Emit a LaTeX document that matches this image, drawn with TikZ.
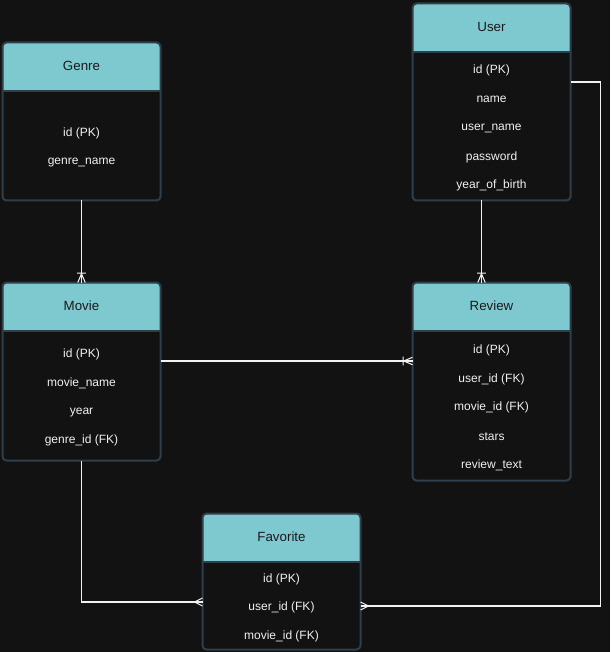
\documentclass[tikz,border=0pt]{standalone}
\usepackage{fontspec}
\setmainfont{Liberation Sans}
\usetikzlibrary{calc,arrows.meta}

\definecolor{canvas}{HTML}{121212}
\definecolor{tblborder}{HTML}{2E3E4A}
\definecolor{hdrfill}{HTML}{7DC9CF}
\definecolor{hdrtext}{HTML}{1A1A1A}
\definecolor{fieldcol}{HTML}{F0F0F0}
\definecolor{linkcol}{HTML}{F2F2F2}

% crow's foot: many
\pgfdeclarearrow{
  name = ERmany,
  setup code = {
    \pgfarrowssettipend{0pt}
    \pgfarrowssetlineend{0pt}
    \pgfarrowssetbackend{-6pt}
    \pgfarrowshullpoint{0pt}{3pt}
    \pgfarrowshullpoint{0pt}{-3pt}
    \pgfarrowshullpoint{-6pt}{0pt}
  },
  drawing code = {
    \pgfsetdash{}{0pt}
    \pgfpathmoveto{\pgfqpoint{0pt}{3pt}}
    \pgfpathlineto{\pgfqpoint{-6pt}{0pt}}
    \pgfpathlineto{\pgfqpoint{0pt}{-3pt}}
    \pgfusepathqstroke
  },
}
% crow's foot: one or many
\pgfdeclarearrow{
  name = ERonemany,
  setup code = {
    \pgfarrowssettipend{0pt}
    \pgfarrowssetlineend{0pt}
    \pgfarrowssetbackend{-7pt}
    \pgfarrowshullpoint{0pt}{3pt}
    \pgfarrowshullpoint{0pt}{-3pt}
    \pgfarrowshullpoint{-7pt}{3pt}
    \pgfarrowshullpoint{-7pt}{-3pt}
  },
  drawing code = {
    \pgfsetdash{}{0pt}
    \pgfpathmoveto{\pgfqpoint{0pt}{2.8pt}}
    \pgfpathlineto{\pgfqpoint{-6.5pt}{0pt}}
    \pgfpathlineto{\pgfqpoint{0pt}{-2.8pt}}
    \pgfpathmoveto{\pgfqpoint{-7pt}{3.2pt}}
    \pgfpathlineto{\pgfqpoint{-7pt}{-3.2pt}}
    \pgfusepathqstroke
  },
}

\tikzset{
  tablebox/.style={draw=tblborder, line width=1.5pt, fill=canvas,
    rounded corners=3pt, minimum width=118.5pt, inner sep=0pt, outer sep=0pt,
    anchor=north west,
    path picture={
      \fill[hdrfill, sharp corners] (path picture bounding box.north west)
        rectangle ([yshift=-36.4pt]path picture bounding box.north east);
      \draw[tblborder, line width=1.5pt, sharp corners]
        ([yshift=-36.4pt]path picture bounding box.north west)
        -- ([yshift=-36.4pt]path picture bounding box.north east);
    }},
  titletext/.style={font=\fontsize{10}{12}\selectfont, text=hdrtext, inner sep=0pt},
  fieldtext/.style={font=\fontsize{9}{11}\selectfont, text=fieldcol, inner sep=0pt},
  conn/.style={draw=linkcol, line width=0.8pt},
}

% table: name, left, top, height, title, number of fields, fields
\newcommand{\ertable}[7]{%
  \node[tablebox, minimum height={#4*0.75pt}] (#1) at (#2,#3) {};
  \node[titletext] (#1-title) at ($(#1.north)+(0,23.5)$) {#5};
  \foreach \f [count=\i] in {#7}
    \node[fieldtext] (#1-f\i) at ($(#1.north)+(0,{50.5+(#4-48.5)/2+(\i-(#6+1)/2)*28.75})$) {\f};
}

\begin{document}
\begin{tikzpicture}[x=0.75pt, y=-0.75pt]
  \fill[canvas] (0,0) rectangle (610,652);
  \useasboundingbox (0,0) rectangle (610,652);

  \ertable{genre}{2.5}{42.5}{158}{Genre}{2}{id (PK), genre\_name}
  \ertable{user}{412.5}{3.5}{197}{User}{5}{id (PK), name, user\_name, password, year\_of\_birth}
  \ertable{movie}{2.5}{282.5}{178}{Movie}{4}{id (PK), movie\_name, year, genre\_id (FK)}
  \ertable{review}{412.5}{282.5}{198}{Review}{5}{id (PK), user\_id (FK), movie\_id (FK), stars, review\_text}
  \ertable{favorite}{202.5}{513.5}{136}{Favorite}{3}{id (PK), user\_id (FK), movie\_id (FK)}

  \draw[conn, -{ERonemany}] (genre.south) -- (movie.north);
  \draw[conn, -{ERonemany}] ([xshift=-7.5pt]user.south) -- ([xshift=-7.5pt]review.north);
  \draw[conn, -{ERonemany}] ($(movie.north east)+(0,78.5)$) -- ($(review.north west)+(0,78.5)$);
  \draw[conn, -{ERmany}] (movie.south) |- ($(favorite.north west)+(0,88.5)$);
  \draw[conn, -{ERmany}] ($(user.north east)+(0,78.5)$) -- ++(30,0)
    |- ($(favorite.north east)+(0,92.5)$);
\end{tikzpicture}
\end{document}
